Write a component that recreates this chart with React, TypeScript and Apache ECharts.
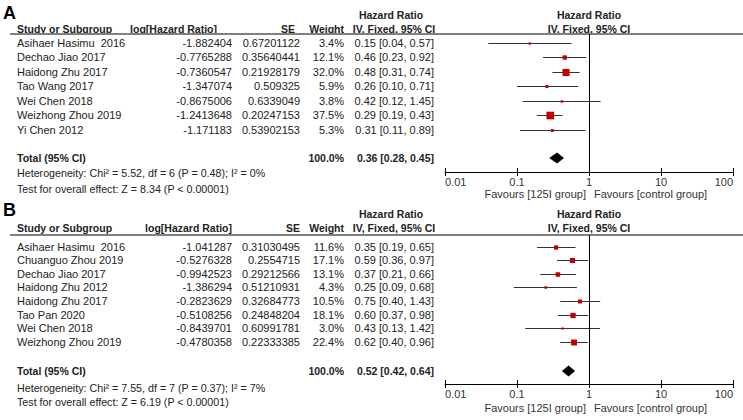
import React, { useEffect, useRef } from "react";
import * as echarts from "echarts";

// ---------- data ----------
const studiesA = ["Asihaer Hasimu  2016", "Dechao Jiao 2017", "Haidong Zhu 2017", "Tao Wang 2017", "Wei Chen 2018", "Weizhong Zhou 2019", "Yi Chen 2012"];
const logHrA = ["-1.882404", "-0.7765288", "-0.7360547", "-1.347074", "-0.8675006", "-1.2413648", "-1.171183"];
const seA = ["0.67201122", "0.35640441", "0.21928179", "0.509325", "0.6339049", "0.20247153", "0.53902153"];
const weightA = [3.4, 12.1, 32.0, 5.9, 3.8, 37.5, 5.3];
const hrA = [0.15, 0.46, 0.48, 0.26, 0.42, 0.29, 0.31];
const loA = [0.04, 0.23, 0.31, 0.10, 0.12, 0.19, 0.11];
const hiA = [0.57, 0.92, 0.74, 0.71, 1.45, 0.43, 0.89];
const totalA = [0.36, 0.28, 0.45];
const totalWeightA = 100.0;
const hetA = "Heterogeneity: Chi² = 5.52, df = 6 (P = 0.48); I² = 0%";
const testA = "Test for overall effect: Z = 8.34 (P < 0.00001)";

const studiesB = ["Asihaer Hasimu  2016", "Chuanguo Zhou 2019", "Dechao Jiao 2017", "Haidong Zhu 2012", "Haidong Zhu 2017", "Tao Pan 2020", "Wei Chen 2018", "Weizhong Zhou 2019"];
const logHrB = ["-1.041287", "-0.5276328", "-0.9942523", "-1.386294", "-0.2823629", "-0.5108256", "-0.8439701", "-0.4780358"];
const seB = ["0.31030495", "0.2554715", "0.29212566", "0.51210931", "0.32684773", "0.24848204", "0.60991781", "0.22333385"];
const weightB = [11.6, 17.1, 13.1, 4.3, 10.5, 18.1, 3.0, 22.4];
const hrB = [0.35, 0.59, 0.37, 0.25, 0.75, 0.60, 0.43, 0.62];
const loB = [0.19, 0.36, 0.21, 0.09, 0.40, 0.37, 0.13, 0.40];
const hiB = [0.65, 0.97, 0.66, 0.68, 1.43, 0.98, 1.42, 0.96];
const totalB = [0.52, 0.42, 0.64];
const totalWeightB = 100.0;
const hetB = "Heterogeneity: Chi² = 7.55, df = 7 (P = 0.37); I² = 7%";
const testB = "Test for overall effect: Z = 6.19 (P < 0.00001)";

const axisTicks = [0.01, 0.1, 1, 10, 100];
const favoursLeft = "Favours [125I group]";
const favoursRight = "Favours [control group]";

// ---------- layout ----------
const FONT = "'Liberation Sans', Arial, Helvetica, sans-serif";
const TXT = "#222";
const PLOT_L = 445;
const PLOT_W = 288;

const panels = [
  {
    tag: "A", studies: studiesA, logHr: logHrA, se: seA, weight: weightA, hr: hrA, lo: loA, hi: hiA, total: totalA, totalW: totalWeightA, het: hetA, test: testA,
    L: { tagY: 13, h1: 15, h2: 29, lineY: 34, firstRow: 42.5, rowH: 14.5, totalY: 158, axisY: 172, hetY: 173, testY: 189, favY: 194, logR: 217, seR: 295 },
  },
  {
    tag: "B", studies: studiesB, logHr: logHrB, se: seB, weight: weightB, hr: hrB, lo: loB, hi: hiB, total: totalB, totalW: totalWeightB, het: hetB, test: testB,
    L: { tagY: 210, h1: 214, h2: 228, lineY: 235, firstRow: 246.5, rowH: 13.6, totalY: 371, axisY: 384, hetY: 388, testY: 402, favY: 408, logR: 232, seR: 300 },
  },
];

function txt(text: string, x: number, y: number, opts: any = {}) {
  return {
    type: "text",
    x,
    y,
    silent: true,
    style: {
      text,
      fill: opts.fill || TXT,
      fontSize: opts.size || 11,
      fontWeight: opts.bold ? "bold" : "normal",
      fontFamily: FONT,
      align: opts.align || "left",
      verticalAlign: "middle",
    },
  };
}

function fmtTick(v: number) {
  return String(parseFloat(Number(v).toPrecision(6)));
}

function buildOption() {
  const grids: any[] = [];
  const xAxes: any[] = [];
  const yAxes: any[] = [];
  const series: any[] = [];
  const graphics: any[] = [];

  panels.forEach((p, gi) => {
    const L = p.L;
    const h = L.axisY - L.lineY;
    grids.push({ left: PLOT_L, width: PLOT_W, top: L.lineY, height: h, containLabel: false });
    xAxes.push({
      type: "log", logBase: 10, min: axisTicks[0], max: axisTicks[axisTicks.length - 1], gridIndex: gi, position: "bottom",
      axisLine: { show: true, onZero: false, lineStyle: { color: "#000", width: 1 } },
      axisTick: { show: true, inside: false, length: 4, lineStyle: { color: "#000" } },
      axisLabel: { show: true, formatter: fmtTick, color: "#333", fontSize: 11, fontFamily: FONT, margin: 4, alignMinLabel: "left", alignMaxLabel: "right" },
      splitLine: { show: false },
    });
    xAxes.push({
      type: "log", logBase: 10, min: axisTicks[0], max: axisTicks[axisTicks.length - 1], gridIndex: gi, position: "bottom", offset: 0,
      axisLine: { show: false, onZero: false },
      axisTick: { show: true, inside: true, length: 4, lineStyle: { color: "#000" } },
      axisLabel: { show: false },
      splitLine: { show: false },
    });
    yAxes.push({ type: "value", gridIndex: gi, min: 0, max: h, inverse: true, show: false });

    const data: any[] = [];
    p.studies.forEach((_, i) => {
      const yv = L.firstRow - L.lineY + i * L.rowH;
      data.push([p.lo[i], p.hi[i], p.hr[i], yv, Math.max(2, 1.25 * Math.sqrt(p.weight[i])), 0, 0]);
    });
    data.push([p.total[1], p.total[2], p.total[0], L.totalY - L.lineY, 0, 1, 0]);
    data.push([1, 1, 1, 0, 0, 2, h]);

    series.push({
      type: "custom",
      xAxisIndex: gi * 2,
      yAxisIndex: gi,
      clip: false,
      silent: true,
      encode: { x: [0, 1, 2], y: [3] },
      data,
      renderItem: (params: any, api: any) => {
        const kind = api.value(5);
        if (kind === 2) {
          const p1 = api.coord([1, api.value(3)]);
          const p2 = api.coord([1, api.value(6)]);
          const x = Math.round(p1[0]) + 0.5;
          return { type: "line", shape: { x1: x, y1: p1[1], x2: x, y2: p2[1] }, style: { stroke: "#000", lineWidth: 1 } };
        }
        const a = api.coord([api.value(0), api.value(3)]);
        const b = api.coord([api.value(1), api.value(3)]);
        const c = api.coord([api.value(2), api.value(3)]);
        if (kind === 1) {
          const hh = 5.5;
          return {
            type: "polygon",
            shape: { points: [[a[0], c[1]], [c[0], c[1] - hh], [b[0], c[1]], [c[0], c[1] + hh]] },
            style: { fill: "#000" },
          };
        }
        const s = api.value(4);
        const y = Math.round(c[1]) + 0.5;
        return {
          type: "group",
          children: [
            { type: "line", shape: { x1: a[0], y1: y, x2: b[0], y2: y }, style: { stroke: "#333", lineWidth: 1 } },
            { type: "rect", shape: { x: c[0] - s / 2, y: y - s / 2, width: s, height: s }, style: { fill: "#c00000" } },
          ],
        };
      },
    });

    const centerX = PLOT_L + PLOT_W / 2;
    graphics.push(txt(p.tag, 3, L.tagY, { bold: true, size: 18, fill: "#000" }));
    graphics.push(txt("Hazard Ratio", 391, L.h1, { bold: true, size: 10.5, align: "center" }));
    graphics.push(txt("Hazard Ratio", centerX, L.h1, { bold: true, size: 10.5, align: "center" }));
    graphics.push(txt("Study or Subgroup", 17, L.h2, { bold: true, size: 10.5 }));
    graphics.push(txt("log[Hazard Ratio]", L.logR, L.h2, { bold: true, size: 10.5, align: "right" }));
    graphics.push(txt("SE", L.seR, L.h2, { bold: true, size: 10.5, align: "right" }));
    graphics.push(txt("Weight", 344, L.h2, { bold: true, size: 10.5, align: "right" }));
    graphics.push(txt("IV, Fixed, 95% CI", 394, L.h2, { bold: true, size: 10.5, align: "center" }));
    graphics.push(txt("IV, Fixed, 95% CI", centerX, L.h2, { bold: true, size: 10.5, align: "center" }));
    graphics.push({ type: "line", silent: true, shape: { x1: 10, y1: L.lineY, x2: 743, y2: L.lineY }, style: { stroke: "#808080", lineWidth: 2 } });
    p.studies.forEach((name, i) => {
      const y = L.firstRow + i * L.rowH;
      graphics.push(txt(name, 17, y));
      graphics.push(txt(p.logHr[i], 232, y, { align: "right" }));
      graphics.push(txt(p.se[i], 300, y, { align: "right" }));
      graphics.push(txt(p.weight[i].toFixed(1) + "%", 344, y, { align: "right" }));
      graphics.push(txt(`${p.hr[i].toFixed(2)} [${p.lo[i].toFixed(2)}, ${p.hi[i].toFixed(2)}]`, 434, y, { align: "right" }));
    });
    graphics.push(txt("Total (95% CI)", 17, L.totalY, { bold: true, size: 10.5 }));
    graphics.push(txt(p.totalW.toFixed(1) + "%", 344, L.totalY, { bold: true, size: 10.5, align: "right" }));
    graphics.push(txt(`${p.total[0].toFixed(2)} [${p.total[1].toFixed(2)}, ${p.total[2].toFixed(2)}]`, 434, L.totalY, { bold: true, size: 10.5, align: "right" }));
    graphics.push(txt(p.het, 17, L.hetY, { size: 10.7 }));
    graphics.push(txt(p.test, 17, L.testY, { size: 10.7 }));
    graphics.push(txt(favoursLeft, centerX - 3, L.favY, { align: "right", fill: "#333" }));
    graphics.push(txt(favoursRight, centerX + 5, L.favY, { align: "left", fill: "#333" }));
  });

  return {
    animation: false,
    backgroundColor: "#fff",
    grid: grids,
    xAxis: xAxes,
    yAxis: yAxes,
    series,
    graphic: { elements: graphics },
  };
}

export default function App() {
  const ref = useRef<HTMLDivElement>(null);
  useEffect(() => {
    if (!ref.current) return;
    const chart = echarts.init(ref.current, undefined, { renderer: "svg" });
    chart.setOption(buildOption() as any);
    return () => chart.dispose();
  }, []);
  return <div ref={ref} style={{ position: "fixed", left: 0, top: 0, width: 743, height: 420, background: "#fff" }} />;
}
